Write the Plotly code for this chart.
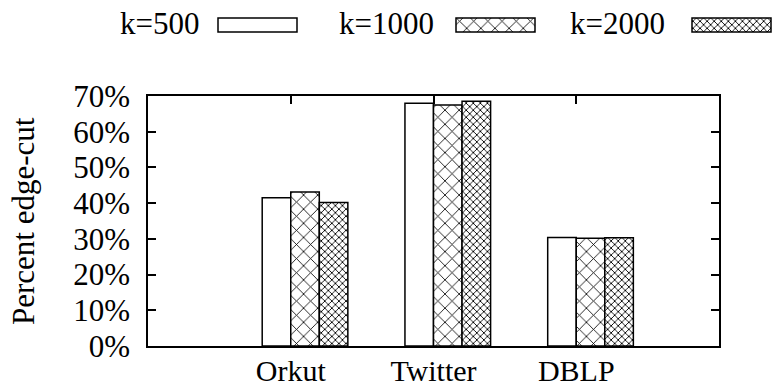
import plotly.graph_objects as go

# ---------------- data ----------------
categories = ["Orkut", "Twitter", "DBLP"]
series_names = ["k=500", "k=1000", "k=2000"]
k500 = [41.5, 68.0, 30.4]
k1000 = [43.1, 67.5, 30.2]
k2000 = [40.2, 68.5, 30.3]
y_tick_values = [0, 10, 20, 30, 40, 50, 60, 70]
y_tick_labels = ["0%", "10%", "20%", "30%", "40%", "50%", "60%", "70%"]

series_values = [k500, k1000, k2000]

# ---------------- layout constants (pixels) ----------------
W, H = 774, 389
PL, PR, PT, PB = 148, 719, 96, 346
FONT = "'Liberation Serif', 'Times New Roman', Times, 'DejaVu Serif', serif"
FS = 31

patterns = [
    dict(shape="", size=8, solidity=0.2),
    dict(shape="x", size=10, solidity=0.16),
    dict(shape="x", size=5, solidity=0.32),
]

bar_w = 0.2
x_idx = list(range(len(categories)))

fig = go.Figure()

for j, (name, vals) in enumerate(zip(series_names, series_values)):
    fig.add_trace(go.Bar(
        x=x_idx, y=vals, name=name,
        width=bar_w, offset=-bar_w + bar_w * j,
        marker=dict(color="white",
                    line=dict(color="black", width=1.5),
                    pattern=dict(shape=patterns[j]["shape"], size=patterns[j]["size"],
                                 solidity=patterns[j]["solidity"],
                                 fgcolor="black", bgcolor="white", fillmode="replace")),
        showlegend=False, xaxis="x", yaxis="y",
    ))

# ---------- manual legend (text left, sample box right, like gnuplot) ----------
legend_box_x = [218, 456, 692]
legend_text_right = [201, 436, 667]
legend_box_w = 79
legend_box_h = 14
legend_cy = 25
annotations = []
for j, name in enumerate(series_names):
    fig.add_trace(go.Bar(
        y=[legend_cy], x=[legend_box_w], base=[legend_box_x[j]], orientation="h",
        width=legend_box_h,
        marker=dict(color="white",
                    line=dict(color="black", width=1.5),
                    pattern=dict(shape=patterns[j]["shape"], size=patterns[j]["size"],
                                 solidity=patterns[j]["solidity"],
                                 fgcolor="black", bgcolor="white", fillmode="replace")),
        showlegend=False, hoverinfo="skip", xaxis="x2", yaxis="y2",
    ))
    annotations.append(dict(
        text=name, x=legend_text_right[j] / W, y=1 - (legend_cy - 1) / H,
        xref="paper", yref="paper", xanchor="right", yanchor="middle",
        showarrow=False, font=dict(family=FONT, size=FS, color="black"),
    ))

# y-axis title
annotations.append(dict(
    text="Percent edge-cut", x=24 / W, y=1 - ((PT + PB) / 2) / H,
    xref="paper", yref="paper", xanchor="center", yanchor="middle",
    textangle=-90, showarrow=False, font=dict(family=FONT, size=FS, color="black"),
))

fig.update_layout(
    width=W, height=H,
    margin=dict(l=0, r=0, t=0, b=0, autoexpand=False),
    paper_bgcolor="white", plot_bgcolor="rgba(0,0,0,0)",
    barmode="overlay",
    font=dict(family=FONT, size=FS, color="black"),
    xaxis=dict(
        domain=[PL / W, PR / W], anchor="y",
        range=[-1, 3], tickvals=x_idx, ticktext=categories,
        ticks="inside", ticklen=8, tickwidth=1.5, tickcolor="black",
        showline=True, linecolor="black", linewidth=1.5, mirror="ticks",
        showgrid=False, zeroline=False, layer="below traces",
        tickfont=dict(family=FONT, size=FS - 1, color="black"),
        ticklabelstandoff=-3,
        fixedrange=True,
    ),
    yaxis=dict(
        domain=[1 - PB / H, 1 - PT / H], anchor="x",
        range=[0, 70], tickvals=y_tick_values, ticktext=y_tick_labels,
        ticks="inside", ticklen=8, tickwidth=1.5, tickcolor="black",
        showline=True, linecolor="black", linewidth=1.5, mirror="ticks",
        showgrid=False, zeroline=False,
        tickfont=dict(family=FONT, size=FS, color="black"),
        ticklabelstandoff=10,
        fixedrange=True,
    ),
    xaxis2=dict(domain=[0, 1], range=[0, W], anchor="y2", visible=False, fixedrange=True),
    yaxis2=dict(domain=[0, 1], range=[H, 0], anchor="x2", visible=False, fixedrange=True),
    annotations=annotations,
    showlegend=False,
)

fig.write_html("out.html")
